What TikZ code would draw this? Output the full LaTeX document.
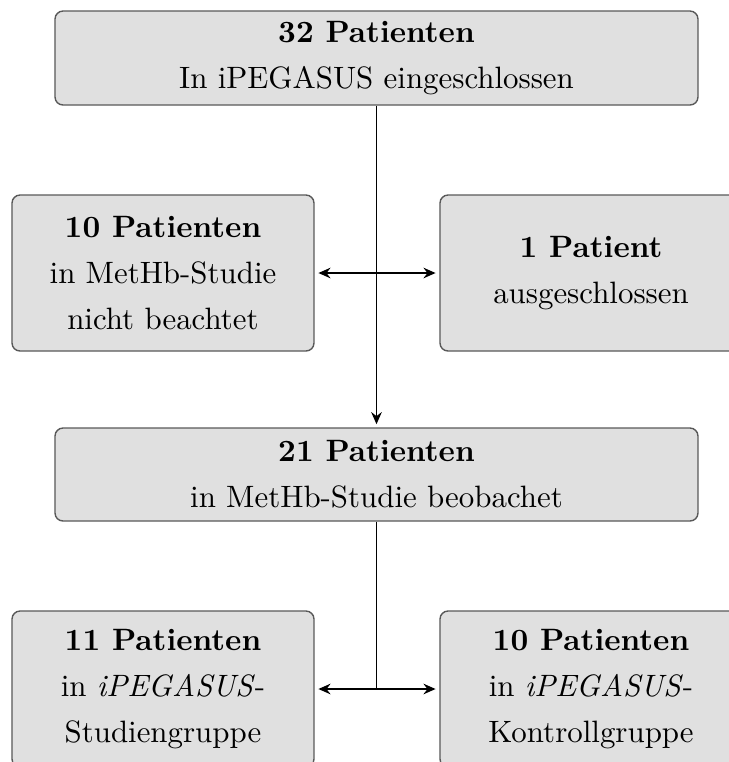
\documentclass[tikz,border=0pt]{standalone}
\usetikzlibrary{arrows.meta}
\newdimen\pxu \pxu=0.3236pt
\begin{document}
\begin{tikzpicture}[x=0.3236pt,y=-0.3236pt,
  box/.style={draw=black!65, fill=black!12, rounded corners=2.6pt, line width=0.45pt,
    inner sep=0pt, align=center, font=\fontsize{10}{14.9}\selectfont},
  widebox/.style={box, minimum width=643*\pxu},
  sidebox/.style={box, minimum width=302*\pxu, minimum height=156*\pxu},
  conn/.style={line width=0.6pt},
  dtip/.style={{Stealth[length=3.9pt,width=3.4pt]}-{Stealth[length=3.9pt,width=3.4pt]}, shorten <=1.2pt, shorten >=1.2pt},
  stip/.style={-{Stealth[length=3.9pt,width=3.4pt]}, shorten >=1pt}]
\clip (0,0) rectangle (729,762);
\node[widebox, minimum height=94*\pxu] (top) at (376.5,58)
  {\textbf{32 Patienten}\\In iPEGASUS eingeschlossen};
\node[sidebox] (left) at (163,273)
  {\textbf{10 Patienten}\\in MetHb-Studie\\nicht beachtet};
\node[sidebox] (right) at (591,273)
  {\textbf{1 Patient}\\ausgeschlossen};
\node[widebox, minimum height=93*\pxu] (mid) at (376.5,474.5)
  {\textbf{21 Patienten}\\in MetHb-Studie beobachet};
\node[sidebox] (bl) at (163,689)
  {\textbf{11 Patienten}\\in \textit{iPEGASUS}-\\Studiengruppe};
\node[sidebox] (br) at (591,689)
  {\textbf{10 Patienten}\\in \textit{iPEGASUS}-\\Kontrollgruppe};
\draw[conn, stip] (top.south) -- (mid.north);
\draw[conn, dtip] (left.east) -- (right.west);
\coordinate (split) at (mid.south |- bl.east);
\draw[conn] (mid.south) -- (split);
\draw[conn, dtip] (bl.east) -- (br.west);
\end{tikzpicture}
\end{document}
